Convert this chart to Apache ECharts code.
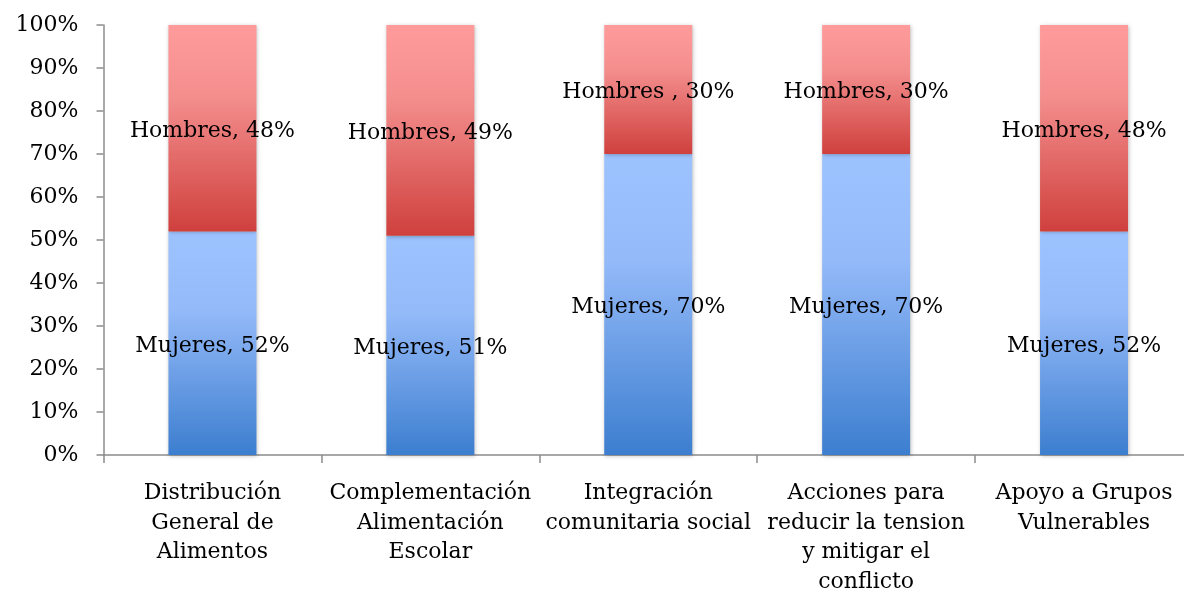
<!DOCTYPE html>
<html>
<head>
<meta charset="utf-8">
<script src="https://cdn.jsdelivr.net/npm/echarts@6/dist/echarts.min.js"></script>
<style>
  html, body { margin: 0; padding: 0; background: #fff; }
  #wrap { width: 1184px; height: 593px; overflow: hidden; position: relative; }
  #main { width: 1193px; height: 593px; }
</style>
</head>
<body>
<div id="wrap"><div id="main"></div></div>
<script>
// categorias (eje x)
var categorias = [
    'Distribución\nGeneral de\nAlimentos',
    'Complementación\nAlimentación\nEscolar',
    'Integración\ncomunitaria social',
    'Acciones para\nreducir la tension\ny mitigar el\nconflicto',
    'Apoyo a Grupos\nVulnerables'
];
// porcentajes
var mujeres = [52, 51, 70, 70, 52];
var hombres = [48, 49, 30, 30, 48];
// textos de las etiquetas tal como aparecen
var mujeresEtiquetas = ['Mujeres, 52%', 'Mujeres, 51%', 'Mujeres, 70%', 'Mujeres, 70%', 'Mujeres, 52%'];
var hombresEtiquetas = ['Hombres, 48%', 'Hombres, 49%', 'Hombres , 30%', 'Hombres, 30%', 'Hombres, 48%'];

var fuente = 'DejaVu Serif';

var chart = echarts.init(document.getElementById('main'));

function grad(c0, c1, c2) {
    return new echarts.graphic.LinearGradient(0, 0, 0, 1, [
        { offset: 0, color: c0 },
        { offset: 0.35, color: c1 },
        { offset: 1, color: c2 }
    ]);
}

var option = {
    animation: false,
    backgroundColor: '#fff',
    grid: {
        left: 103.5, right: 0, top: 25, bottom: 138,
        containLabel: false, outerBoundsMode: 'none'
    },
    xAxis: {
        type: 'category',
        data: categorias,
        axisLine: { lineStyle: { color: '#8c8c8c', width: 1.5 } },
        axisTick: { show: true, length: 8, lineStyle: { color: '#8c8c8c', width: 1.5 } },
        axisLabel: {
            interval: 0, margin: 24, lineHeight: 29.5,
            fontFamily: fuente, fontSize: 22, color: '#000'
        }
    },
    yAxis: {
        type: 'value',
        min: 0, max: 100, interval: 10,
        axisLine: { show: true, lineStyle: { color: '#8c8c8c', width: 1.5 } },
        axisTick: { show: true, length: 7, lineStyle: { color: '#8c8c8c', width: 1.5 } },
        splitLine: { show: false },
        axisLabel: {
            margin: 25, fontFamily: fuente, fontSize: 22, color: '#000',
            formatter: '{value}%'
        }
    },
    series: [
        {
            name: 'Mujeres',
            type: 'bar',
            stack: 'total',
            barWidth: 88,
            data: mujeres,
            itemStyle: {
                color: grad('#9DC3FF', '#94BAF9', '#3C7ECF'),
                shadowColor: 'rgba(0,0,0,0.25)', shadowBlur: 4, shadowOffsetX: 1, shadowOffsetY: 1
            },
            label: {
                show: true, position: 'inside', offset: [0, 3],
                fontFamily: fuente, fontSize: 22, color: '#000',
                formatter: function (p) { return mujeresEtiquetas[p.dataIndex]; }
            }
        },
        {
            name: 'Hombres',
            type: 'bar',
            stack: 'total',
            barWidth: 88,
            data: hombres,
            itemStyle: {
                color: grad('#FF9C9B', '#F38E8D', '#CF403D'),
                shadowColor: 'rgba(0,0,0,0.25)', shadowBlur: 4, shadowOffsetX: 1, shadowOffsetY: 1
            },
            label: {
                show: true, position: 'inside', offset: [0, 3],
                fontFamily: fuente, fontSize: 22, color: '#000',
                formatter: function (p) { return hombresEtiquetas[p.dataIndex]; }
            }
        }
    ]
};

chart.setOption(option);
</script>
</body>
</html>
